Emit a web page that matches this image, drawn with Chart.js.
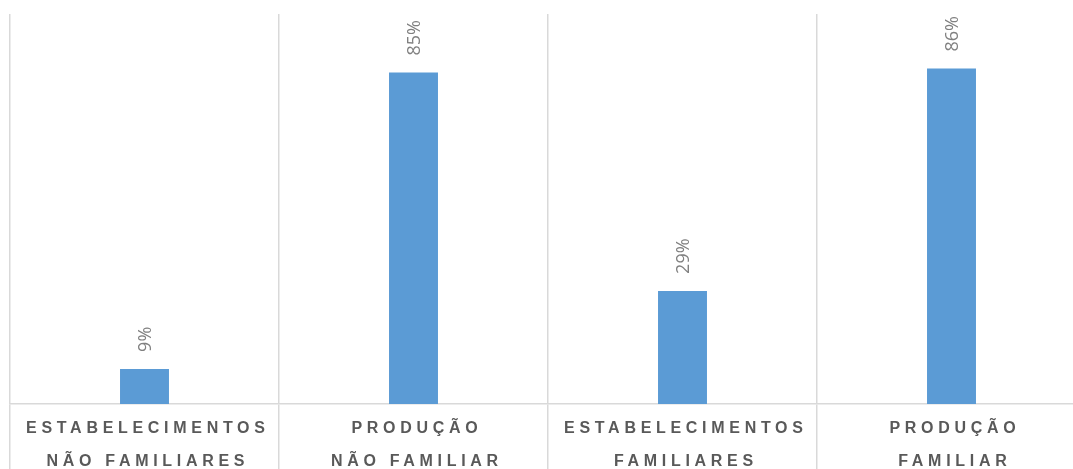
<!DOCTYPE html>
<html lang="pt-BR">
<head>
<meta charset="utf-8">
<title>Estabelecimentos e produção</title>
<script src="https://cdn.jsdelivr.net/npm/chart.js@4/dist/chart.umd.min.js"></script>
<style>
    html, body { margin: 0; padding: 0; background: #ffffff; overflow: hidden; }
    #moldura { width: 1073px; height: 469px; overflow: hidden; }
    #area { position: relative; width: 1090px; height: 490px; }
</style>
</head>
<body>
<div id="moldura">
    <div id="area"><canvas id="graficoFamiliar"></canvas></div>
</div>
<script>
// categorias (duas linhas cada) e percentuais
const categorias = [
    ['ESTABELECIMENTOS', 'NÃO FAMILIARES'],
    ['PRODUÇÃO', 'NÃO FAMILIAR'],
    ['ESTABELECIMENTOS', 'FAMILIARES'],
    ['PRODUÇÃO', 'FAMILIAR']
];
const percentuais = [9, 85, 29, 86];

const ESPACO = 4.7;

// espaçamento entre letras nos rótulos do eixo x
const espacoLetras = {
    id: 'espacoLetras',
    beforeDraw(chart) {
        chart.ctx.letterSpacing = ESPACO + 'px';
    },
    beforeDatasetsDraw(chart) {
        chart.ctx.letterSpacing = '0px';
    }
};

// rótulos de valor girados acima das barras
const rotulosValor = {
    id: 'rotulosValor',
    afterDatasetsDraw(chart) {
        const ctx = chart.ctx;
        const meta = chart.getDatasetMeta(0);
        ctx.save();
        ctx.font = '18px "Open Sans"';
        ctx.fillStyle = '#808080';
        ctx.textAlign = 'left';
        ctx.textBaseline = 'middle';
        meta.data.forEach(function(barra, i) {
            ctx.save();
            ctx.translate(barra.x + 1, barra.y - 17);
            ctx.rotate(-Math.PI / 2);
            ctx.fillText(percentuais[i] + '%', 0, 0);
            ctx.restore();
        });
        ctx.restore();
    }
};

const ctx = document.getElementById('graficoFamiliar');
new Chart(ctx, {
    type: 'bar',
    data: {
        labels: categorias,
        datasets: [{
            data: percentuais,
            backgroundColor: '#5b9bd5',
            borderWidth: 0,
            categoryPercentage: 1,
            barPercentage: 0.182
        }]
    },
    options: {
        responsive: true,
        maintainAspectRatio: false,
        animation: false,
        layout: {
            padding: { left: 10, right: 4, top: 14, bottom: 0 }
        },
        plugins: {
            legend: { display: false },
            tooltip: { enabled: false }
        },
        scales: {
            x: {
                offset: true,
                grid: {
                    offset: true,
                    color: '#d9d9d9',
                    lineWidth: 1.5,
                    tickLength: 80
                },
                border: {
                    color: '#d9d9d9',
                    width: 1.5
                },
                ticks: {
                    padding: -72,
                    labelOffset: ESPACO / 2 + 1,
                    color: '#595959',
                    maxRotation: 0,
                    autoSkip: false,
                    font: {
                        family: '"Liberation Sans", Arial, sans-serif',
                        size: 16,
                        weight: 'bold',
                        lineHeight: '33px'
                    }
                },
                afterFit(scale) {
                    scale.height = 86;
                }
            },
            y: {
                display: false,
                min: 0,
                max: 100
            }
        }
    },
    plugins: [espacoLetras, rotulosValor]
});
</script>
</body>
</html>
